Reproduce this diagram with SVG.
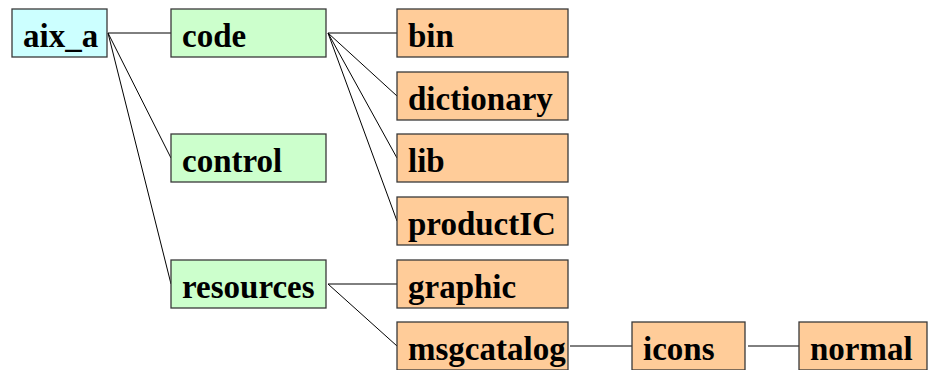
<svg xmlns="http://www.w3.org/2000/svg" width="929" height="370" viewBox="0 0 929 370">
<style>
.b{stroke:#3a3a3a;stroke-width:1.3}
.r{fill:#ccffff}.g{fill:#ccffcc}.o{fill:#ffcc99}
.t{font-family:'Liberation Serif',serif;font-weight:700;font-size:33px;fill:#000}
.c{stroke:#000;stroke-width:1;fill:none}
</style>
<rect width="929" height="370" fill="#fff"/>
<g id="connectors" class="c">
<line x1="108" y1="33" x2="171" y2="33"/>
<line x1="108" y1="33" x2="171" y2="158"/>
<line x1="108" y1="33" x2="171" y2="284"/>
<line x1="328" y1="33" x2="397" y2="33"/>
<line x1="328" y1="33" x2="397" y2="96"/>
<line x1="328" y1="33" x2="397" y2="158"/>
<line x1="328" y1="33" x2="397" y2="221"/>
<line x1="328" y1="284" x2="397" y2="284"/>
<line x1="328" y1="284" x2="397" y2="346"/>
<line x1="570" y1="346" x2="632" y2="346"/>
<line x1="748" y1="346" x2="799" y2="346"/>
</g>
<g id="aix_a"><rect class="b r" x="12" y="9" width="95" height="48"/><text class="t" x="23" y="47">aix_a</text></g>
<g id="code"><rect class="b g" x="171" y="9" width="155" height="48"/><text class="t" x="182" y="47">code</text></g>
<g id="control"><rect class="b g" x="171" y="134" width="155" height="48"/><text class="t" x="182" y="172">control</text></g>
<g id="resources"><rect class="b g" x="171" y="260" width="155" height="48"/><text class="t" x="182" y="298">resources</text></g>
<g id="bin"><rect class="b o" x="397" y="9" width="171" height="48"/><text class="t" x="408" y="47">bin</text></g>
<g id="dictionary"><rect class="b o" x="397" y="72" width="171" height="48"/><text class="t" x="408" y="110">dictionary</text></g>
<g id="lib"><rect class="b o" x="397" y="134" width="171" height="48"/><text class="t" x="408" y="172">lib</text></g>
<g id="productIC"><rect class="b o" x="397" y="197" width="171" height="48"/><text class="t" x="408" y="235">productIC</text></g>
<g id="graphic"><rect class="b o" x="397" y="260" width="171" height="48"/><text class="t" x="408" y="298">graphic</text></g>
<g id="msgcatalog"><rect class="b o" x="397" y="322" width="171" height="48"/><text class="t" x="408" y="360">msgcatalog</text></g>
<g id="icons"><rect class="b o" x="632" y="322" width="113" height="48"/><text class="t" x="643" y="360">icons</text></g>
<g id="normal"><rect class="b o" x="799" y="322" width="128" height="48"/><text class="t" x="810" y="360">normal</text></g>
</svg>
